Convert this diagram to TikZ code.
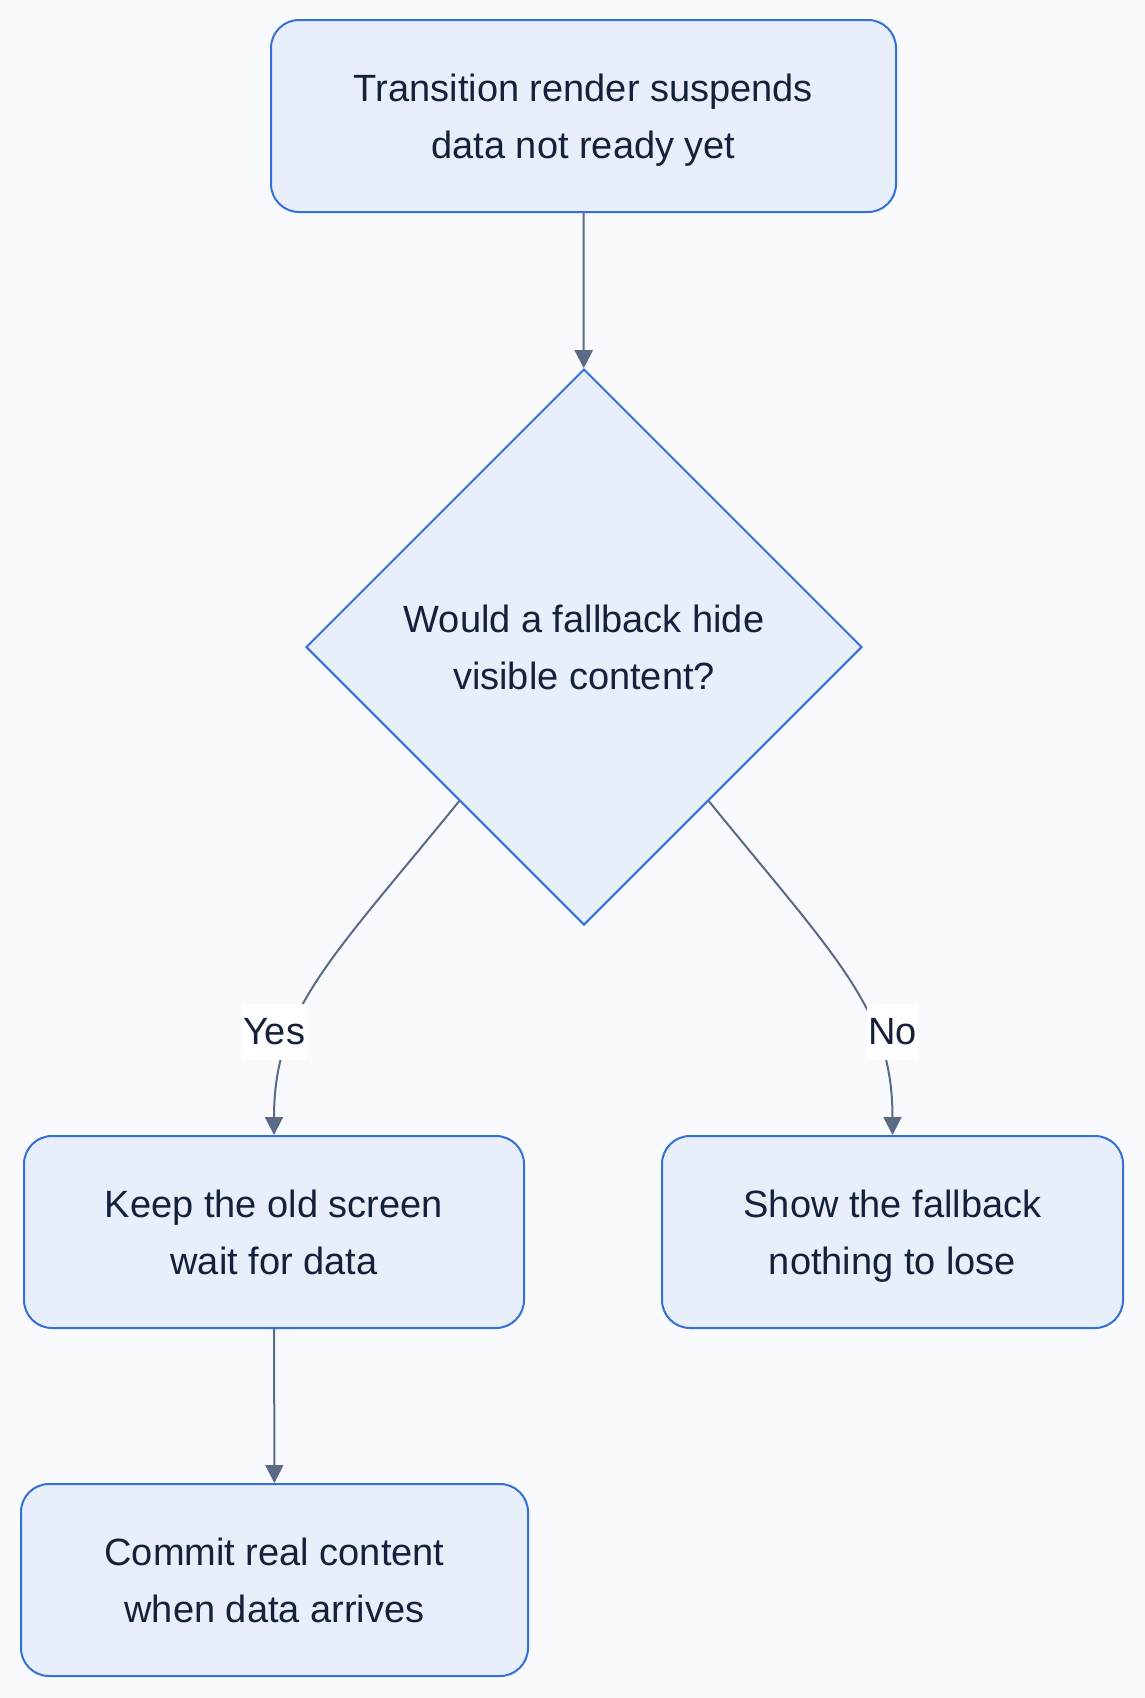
\documentclass[tikz,border=0pt]{standalone}
\usepackage{fontspec}
\setmainfont{Liberation Sans}
\usetikzlibrary{shapes.geometric,arrows.meta}
\definecolor{bgcol}{HTML}{F8FAFD}
\definecolor{boxfill}{HTML}{E9EFFA}
\definecolor{boxline}{HTML}{3470DA}
\definecolor{edgecol}{HTML}{5B6A85}
\definecolor{txtcol}{HTML}{15213B}
\begin{document}
\begin{tikzpicture}[x=1pt, y=-1pt,
  box/.style={rectangle, rounded corners=28pt, draw=boxline, fill=boxfill, line width=2pt, text=txtcol, align=center, font=\fontsize{38}{57}\selectfont, inner sep=0pt, minimum height=192pt, text height=84.7pt, text depth=0pt},
  dia/.style={diamond, draw=boxline, fill=boxfill, line width=2pt, text=txtcol, align=center, font=\fontsize{38}{57}\selectfont, inner sep=0pt, minimum width=556pt, minimum height=556pt, text height=84.7pt, text depth=0pt},
  edge/.style={draw=edgecol, line width=2pt, -{Triangle[length=18pt,width=18pt]}},
  lbl/.style={fill=white, text=txtcol, font=\fontsize{38}{57}\selectfont, inner sep=1pt, minimum height=56pt}]
\fill[bgcol] (0,0) rectangle (1145,1698);
\useasboundingbox (0,0) rectangle (1145,1698);
\node[box, minimum width=625pt] (nid0) at (583.5,116){Transition render suspends\\data not ready yet};
\node[dia] (nid1) at (584,647){Would a fallback hide\\visible content?};
\draw[edge](nid0) -- (nid1);
\node[box, minimum width=500pt] (nid2) at (274,1232){Keep the old screen\\wait for data};
\node[box, minimum width=461pt] (nid3) at (892.5,1232){Show the fallback\\nothing to lose};
\draw[edge](nid1.231) .. controls (330,960) and (274,1010) .. (nid2.north) node[lbl] (lyes) at (274,1032){Yes};
\draw[edge](nid1.309) .. controls (838,960) and (892.5,1010) .. (nid3.north) node[lbl] (lno) at (892.5,1032){No};
\node[box, minimum width=507pt] (nid4) at (274.5,1580){Commit real content\\when data arrives};
\draw[edge](nid2) -- (nid4);
\end{tikzpicture}
\end{document}
